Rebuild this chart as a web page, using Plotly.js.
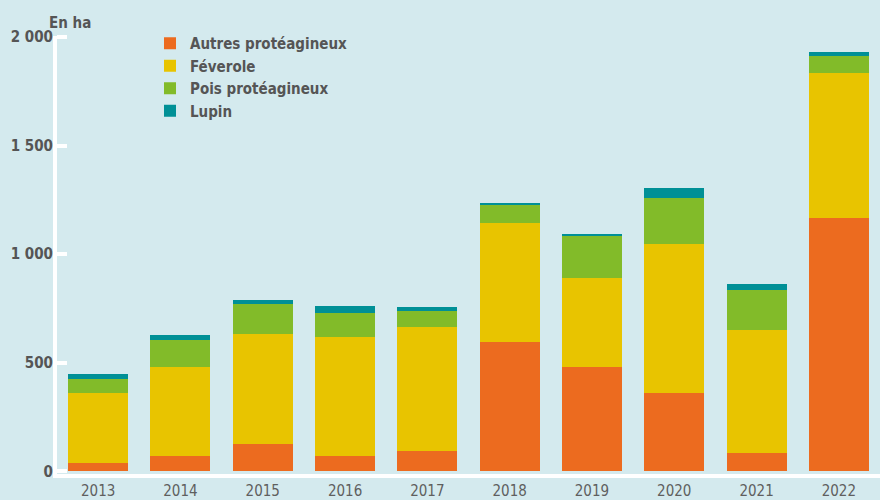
<!DOCTYPE html>
<html>
<head>
<meta charset="utf-8">
<script src="https://cdn.plot.ly/plotly-3.0.1.min.js"></script>
<style>html,body{margin:0;padding:0;background:#D4EAEE;}#chart{width:880px;height:500px;}</style>
</head>
<body>
<div id="chart"></div>
<script>
const years = ['2013','2014','2015','2016','2017','2018','2019','2020','2021','2022'];
const autres = [37, 69, 124, 69, 92, 596, 482, 362, 83, 1165];
const feverole = [325, 413, 509, 550, 573, 546, 408, 684, 568, 670];
const pois = [65, 123, 138, 110, 74, 87, 193, 211, 184, 78];
const lupin = [23, 23, 18, 32, 18, 5, 9, 46, 27, 18];
const yTickVals = [0, 500, 1000, 1500, 2000];
const yTickText = ['0', '500', '1 000', '1 500', '2 000'];

const FONT = '"Liberation Sans Narrow", "DejaVu Sans Condensed", "Open Sans", sans-serif';
const colors = {autres:'#EC6B1F', feverole:'#E8C400', pois:'#82BB29', lupin:'#009096'};

const mk = (name, y, c) => ({type:'bar', name:name, x:years, y:y,
  marker:{color:c, line:{width:0}}, hoverinfo:'name+y'});

const data = [
  mk('Autres protéagineux', autres, colors.autres),
  mk('Féverole', feverole, colors.feverole),
  mk('Pois protéagineux', pois, colors.pois),
  mk('Lupin', lupin, colors.lupin)
];

const layout = {
  width:880, height:500,
  paper_bgcolor:'#D4EAEE', plot_bgcolor:'#D4EAEE',
  margin:{l:57, r:0, t:36, b:26, autoexpand:false},
  barmode:'stack', bargap:0.27,
  font:{family:FONT, color:'#555555'},
  xaxis:{type:'category', showgrid:false, zeroline:false,
    showline:true, linecolor:'#FFFFFF', linewidth:4,
    ticks:'', tickfont:{family:FONT, size:15, color:'#5f5f5f'}},
  yaxis:{range:[-12, 2005], showgrid:false, zeroline:false,
    showline:true, linecolor:'#FFFFFF', linewidth:4,
    tickvals:yTickVals, ticktext:yTickText,
    ticks:'inside', ticklen:10, tickwidth:4, tickcolor:'#FFFFFF',
    ticklabelstandoff:-3,
    tickfont:{family:FONT, size:15, color:'#555555', weight:'bold'}},
  showlegend:true,
  legend:{xref:'container', yref:'container', x:150/880, y:1-27/500,
    xanchor:'left', yanchor:'top', traceorder:'normal', bgcolor:'rgba(0,0,0,0)',
    font:{family:FONT, size:15, color:'#555555', weight:'bold'}, tracegroupgap:0},
  annotations:[{text:'<b>En ha</b>', xref:'paper', yref:'paper', x:-0.012, y:1.0,
    yshift:2, xanchor:'left', yanchor:'bottom', showarrow:false,
    font:{family:FONT, size:15, color:'#555555'}}]
};

Plotly.newPlot('chart', data, layout, {displayModeBar:false, staticPlot:true});
</script>
</body>
</html>
